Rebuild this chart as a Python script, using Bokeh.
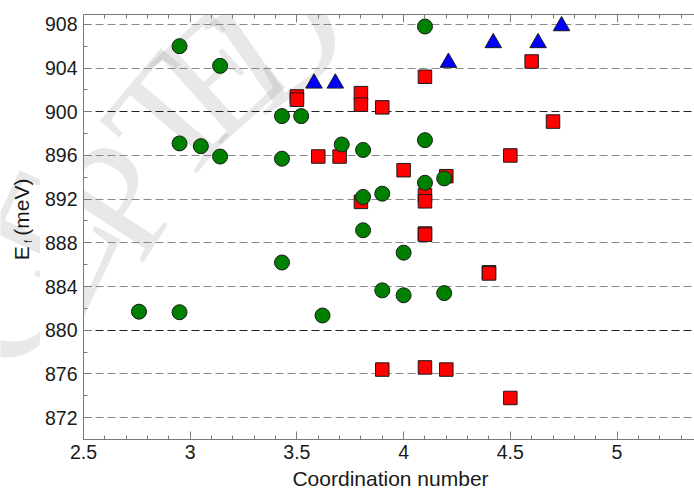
from math import radians, pi
from bokeh.plotting import figure
from bokeh.layouts import row, column
from bokeh.models import Range1d, FixedTicker, LinearAxis, Grid, Label
from bokeh.core.properties import value
from bokeh.embed import file_html
from bokeh.resources import INLINE

# ---------------- data ----------------
green_x = [2.76, 2.95, 2.95, 2.95, 3.05, 3.14, 3.14, 3.43, 3.43, 3.43, 3.52, 3.62, 3.71,
           3.81, 3.81, 3.81, 3.90, 3.90, 4.00, 4.00, 4.10, 4.10, 4.10, 4.19, 4.19]
green_y = [881.7, 906.0, 897.1, 881.65, 896.85, 904.2, 895.9, 899.6, 895.7, 886.2, 899.6, 881.35, 897.0,
           896.5, 892.2, 889.15, 892.5, 883.65, 887.1, 883.2, 907.8, 897.4, 893.5, 893.9, 883.4]

red_x = [3.50, 3.50, 3.60, 3.70, 3.80, 3.80, 3.80, 3.90, 3.90, 4.00, 4.10, 4.10,
         4.10, 4.10, 4.10, 4.10, 4.20, 4.20, 4.40, 4.40, 4.50, 4.50, 4.60, 4.70]
red_y = [901.4, 901.1, 895.9, 895.9, 901.7, 900.65, 891.75, 900.4, 876.4, 894.65, 903.2, 892.35,
         891.8, 888.85, 888.75, 876.6, 894.1, 876.4, 885.3, 885.2, 896.0, 873.8, 904.6, 899.1]

blue_x = [3.58, 3.68, 4.21, 4.42, 4.63, 4.74]
blue_y = [902.6, 902.6, 904.5, 906.3, 906.3, 907.85]

x_ticks = [2.5, 3.0, 3.5, 4.0, 4.5, 5.0]
x_tick_labels = {2.5: "2.5", 3.0: "3", 3.5: "3.5", 4.0: "4", 4.5: "4.5", 5.0: "5"}
x_minor = [round(2.5 + 0.1 * i, 2) for i in range(29)]
y_ticks = [872, 876, 880, 884, 888, 892, 896, 900, 904, 908]
y_minor = [870 + 2 * i for i in range(20)]
dark_grid = [880, 900]
light_grid = [t for t in y_ticks if t not in dark_grid]

x_label = "Coordination number"
y_label_main = "E"
y_label_sub = "f"
y_label_unit = "(meV)"
wm_letters = ["C", "E", "P", "T", "E", "D"]

# ---------------- layout constants ----------------
W, H = 694, 488
BOT_H = 21                 # strip under the plot holding the x-axis title
TOP_H = H - BOT_H
LEFT_W = 40                # strip left of the plot holding the y-axis title
FRAME_L, FRAME_T, FRAME_B = 83, 14, 439   # page pixels of the plotting frame
FONT = "Liberation Sans"
AX_COL = "#7a7a7a"
TXT_COL = "#1a1a1a"

# watermark letter centres (page px), rotation (deg) and which panels they touch
wm_pos = [(-2, 335, 75, "L"), (52, 252, 65, "LM"), (118, 198, 57, "M"),
          (170, 118, 50, "M"), (217, 73, 42, "M"), (278, 38, 35, "M")]

def wm_label(letter, sx, sy, ang):
    return Label(x=sx, y=sy, x_units="screen", y_units="screen", text=letter,
                 angle=radians(ang), text_align="center", text_baseline="middle",
                 text_font="Liberation Serif", text_font_size="165px",
                 text_color="#808080", text_alpha=0.18, level="underlay")

def blank_fig(w, h):
    f = figure(width=w, height=h, output_backend="svg", toolbar_location=None,
               x_range=Range1d(0, w), y_range=Range1d(0, h),
               x_axis_location=None, y_axis_location=None,
               min_border_left=0, min_border_right=0, min_border_top=0, min_border_bottom=0)
    f.outline_line_color = None
    f.grid.visible = False
    return f

# ---------------- left strip: y-axis title (glyph centres given in page px) ----------------
lp = blank_fig(LEFT_W, TOP_H)
for letter, (px, py, ang, where) in zip(wm_letters, wm_pos):
    if "L" in where:
        lp.add_layout(wm_label(letter, px, TOP_H - py, ang))
lp.text(x=[20.5], y=[TOP_H - 270], text=[y_label_main], angle=pi / 2, text_align="left",
        text_baseline="middle", text_font=value(FONT), text_font_size="21px", text_color=TXT_COL)
lp.text(x=[28], y=[TOP_H - 251], text=[y_label_sub], angle=pi / 2, text_align="left",
        text_baseline="middle", text_font=value(FONT), text_font_size="10px", text_color=TXT_COL)
lp.text(x=[20.5], y=[TOP_H - 243], text=[y_label_unit], angle=pi / 2, text_align="left",
        text_baseline="middle", text_font=value(FONT), text_font_size="21px", text_color=TXT_COL)

# ---------------- bottom strip: x-axis title ----------------
bp = blank_fig(W, BOT_H)
bp.text(x=[390], y=[H - 477.5], text=[x_label], text_align="center", text_baseline="middle",
        text_font=value(FONT), text_font_size="21px", text_color=TXT_COL)

# ---------------- main figure ----------------
p = figure(width=W - LEFT_W, height=TOP_H, output_backend="svg", toolbar_location=None,
           x_range=Range1d(2.5, 5.363), y_range=Range1d(870.0, 908.9),
           min_border_left=FRAME_L - LEFT_W, min_border_right=0,
           min_border_top=FRAME_T, min_border_bottom=TOP_H - FRAME_B)
p.outline_line_color = None
p.xgrid.visible = False

for letter, (px, py, ang, where) in zip(wm_letters, wm_pos):
    if "M" in where:
        p.add_layout(wm_label(letter, px - FRAME_L, FRAME_B - py, ang))

# grid lines
p.ygrid.ticker = FixedTicker(ticks=light_grid)
p.ygrid.grid_line_color = "#8a8a8a"
p.ygrid.grid_line_dash = "8 4"
p.ygrid.grid_line_width = 1
p.add_layout(Grid(dimension=1, ticker=FixedTicker(ticks=dark_grid), grid_line_color="#222222",
                  grid_line_dash="8 4", grid_line_width=1))

def style_axis(ax):
    ax.axis_line_color = AX_COL
    ax.major_tick_line_color = AX_COL
    ax.minor_tick_line_color = AX_COL
    ax.major_tick_in = 8
    ax.major_tick_out = 0
    ax.minor_tick_in = 4
    ax.minor_tick_out = 0
    ax.major_label_text_font = FONT
    ax.major_label_text_font_size = "19.5px"
    ax.major_label_text_color = TXT_COL

xax = p.xaxis[0]
xax.ticker = FixedTicker(ticks=x_ticks, minor_ticks=x_minor)
xax.major_label_overrides = x_tick_labels
style_axis(xax)
xax.major_label_standoff = 5

yax = p.yaxis[0]
yax.ticker = FixedTicker(ticks=y_ticks, minor_ticks=y_minor)
style_axis(yax)
yax.major_label_standoff = 6

top = LinearAxis(ticker=FixedTicker(ticks=x_ticks, minor_ticks=x_minor))
style_axis(top)
top.major_label_text_color = None
top.major_label_text_font_size = "1px"
top.major_label_standoff = 0
p.add_layout(top, "above")

# markers
p.scatter(red_x, red_y, marker="square", size=13.5, fill_color="#ff0000",
          line_color=TXT_COL, line_width=1)
p.scatter(blue_x, blue_y, marker="triangle", size=16.5, fill_color="#0000ff",
          line_color=TXT_COL, line_width=1)
p.scatter(green_x, green_y, marker="circle", size=15, fill_color="#008000",
          line_color=TXT_COL, line_width=1)

layout = column(row(lp, p, spacing=0), bp, spacing=0)
open("out.html", "w").write(file_html(layout, INLINE))
